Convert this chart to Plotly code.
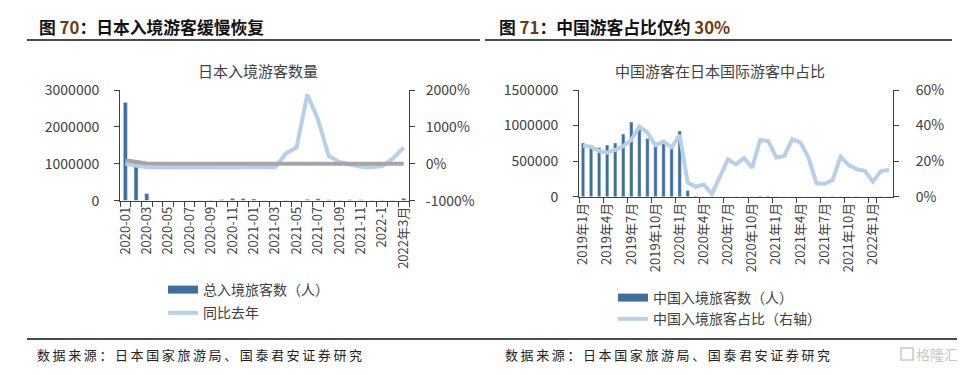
import plotly.graph_objects as go

OFF = 8                      # page body margin offset
W, H = 965 - OFF, 375 - OFF
def px(x): return (x - OFF) / W
def py(y): return 1 - (y - OFF) / H

# ---------------- data: left chart ----------------
left_months = ["2020-01", "2020-02", "2020-03", "2020-04", "2020-05", "2020-06", "2020-07",
               "2020-08", "2020-09", "2020-10", "2020-11", "2020-12", "2021-01", "2021-02",
               "2021-03", "2021-04", "2021-05", "2021-06", "2021-07", "2021-08", "2021-09",
               "2021-10", "2021-11", "2021-12", "2022-1", "2022-2", "2022年3月"]
left_ticktext = ["2020-01", "", "2020-03", "", "2020-05", "", "2020-07", "", "2020-09", "",
                 "2020-11", "", "2021-01", "", "2021-03", "", "2021-05", "", "2021-07", "",
                 "2021-09", "", "2021-11", "", "2022-1", "", "2022年3月"]
total_visitors = [2661000, 1085000, 193700, 2900, 1700, 2600, 3800, 8700, 13700, 27400,
                  56700, 58700, 46500, 7400, 12300, 10900, 10000, 35000, 51100, 25900,
                  17700, 22100, 21000, 12100, 17700, 16700, 66100]
yoy_pct = [-1.1, -58, -93, -99.9, -99.9, -99.9, -99.8, -99.7, -99.4, -98.9, -97.7, -97.3,
           -98.3, -99.3, -93.6, 280, 440, 1880, 1200, 210, 50, -20, -80, -95, -60, 140, 440]
gray_pct = [95, 40, 8, 0, 0, 0, 0, 0, 0, 0, 0, 0, 0, 0, 0, 0, 0, 0, 0, 0, 0, 0, 0, 0, 0, 0, 0]
left_y_ticks = [0, 1000000, 2000000, 3000000]
left_y2_ticks = [-1000, 0, 1000, 2000]
left_y2_text = ["-1000%", "0%", "1000%", "2000%"]

# ---------------- data: right chart ----------------
right_months = [f"{y}年{m}月" for y in (2019, 2020, 2021) for m in range(1, 13)] + \
               ["2022年1月", "2022年2月", "2022年3月"]
right_tickvals = right_months[::3]
china_visitors = [754400, 723800, 691300, 726100, 756400, 880800, 1050400, 1000600, 819100,
                  730600, 750900, 710300,
                  924800, 87200, 10400, 200, 100, 200, 200, 500, 1400, 3000, 10000, 9000,
                  2000, 500, 800, 800, 700, 1200, 3600, 1400, 1500, 1100, 1400, 900,
                  1900, 1800, 1600]
china_share = [28.5, 28.1, 25.7, 24.8, 26.3, 28.5, 31.9, 39.5, 36.0, 29.0, 31.0, 27.8,
               34.7, 7.9, 5.6, 6.9, 1.5, 10.9, 21.0, 18.2, 21.8, 16.3, 31.9, 31.3,
               22.0, 22.9, 32.4, 30.4, 22.0, 7.5, 7.3, 9.4, 22.5, 17.8, 15.4, 14.6,
               8.4, 14.4, 15.0]
right_y_ticks = [0, 500000, 1000000, 1500000]
right_y2_ticks = [0, 20, 40, 60]
right_y2_text = ["0%", "20%", "40%", "60%"]

BAR = "#3f6f9c"
LIGHT = "#b7cfea"
GRAY = "#a5a5a5"
TXT = "#404040"
AX = "#404040"
FONT = "Noto Sans CJK SC"
NUMC = "#6e3a10"

fig = go.Figure()

# left chart traces
fig.add_trace(go.Bar(x=left_months, y=total_visitors, marker_color=BAR, width=0.38,
                     xaxis="x", yaxis="y", showlegend=False, legendgroup="a"))
fig.add_trace(go.Scatter(x=[None], y=[None], mode="lines", line=dict(color=BAR, width=8),
                         name="总入境旅客数（人）", xaxis="x", yaxis="y", legend="legend",
                         legendgroup="a"))
fig.add_trace(go.Scatter(x=left_months, y=yoy_pct, mode="lines", line=dict(color=LIGHT, width=4),
                         name="同比去年", xaxis="x", yaxis="y2", legend="legend", legendgroup="b"))
fig.add_trace(go.Scatter(x=left_months, y=gray_pct, mode="lines", line=dict(color=GRAY, width=4),
                         xaxis="x", yaxis="y2", showlegend=False))

# right chart traces
fig.add_trace(go.Bar(x=right_months, y=china_visitors, marker_color=BAR, width=0.42,
                     xaxis="x2", yaxis="y3", showlegend=False, legendgroup="c"))
fig.add_trace(go.Scatter(x=[None], y=[None], mode="lines", line=dict(color=BAR, width=8),
                         name="中国入境旅客数（人）", xaxis="x2", yaxis="y3", legend="legend2",
                         legendgroup="c"))
fig.add_trace(go.Scatter(x=right_months, y=china_share, mode="lines", line=dict(color=LIGHT, width=4),
                         name="中国入境旅客占比（右轴）", xaxis="x2", yaxis="y4", legend="legend2",
                         legendgroup="d"))

axis_common = dict(showgrid=False, zeroline=False, showline=True, linecolor=AX, linewidth=1,
                   ticks="outside", ticklen=5, tickcolor=AX, automargin=False,
                   tickfont=dict(family=FONT, size=14, color=TXT))

fig.update_layout(
    width=W, height=H, margin=dict(l=0, r=0, t=0, b=0, autoexpand=False),
    paper_bgcolor="white", plot_bgcolor="white",
    font=dict(family=FONT, color=TXT),
    xaxis=dict(axis_common, domain=[px(120), px(409)], anchor="y", type="category",
               tickvals=left_months, ticktext=left_ticktext, tickson="boundaries",
               tickangle=-90, tickfont=dict(family=FONT, size=13, color=TXT)),
    yaxis=dict(axis_common, domain=[py(200.6), py(90)], anchor="x", range=[0, 3000000],
               tickvals=left_y_ticks, tickformat="d", ticklabelstandoff=12),
    yaxis2=dict(axis_common, overlaying="y", side="right", anchor="x", range=[-1000, 2000],
                tickvals=left_y2_ticks, ticktext=left_y2_text, ticklabelstandoff=8),
    xaxis2=dict(axis_common, domain=[px(579), px(893)], anchor="y3", type="category",
                tickvals=right_tickvals, ticktext=right_tickvals, tickson="boundaries",
                tickangle=-90, tickfont=dict(family=FONT, size=13, color=TXT)),
    yaxis3=dict(axis_common, domain=[py(196.7), py(90)], anchor="x2", range=[0, 1500000],
                tickvals=right_y_ticks, tickformat="d", ticklabelstandoff=12),
    yaxis4=dict(axis_common, overlaying="y3", side="right", anchor="x2", range=[0, 60],
                tickvals=right_y2_ticks, ticktext=right_y2_text, ticklabelstandoff=14),
    legend=dict(x=px(163), y=py(274), xanchor="left", yanchor="top", traceorder="grouped",
                tracegroupgap=2, font=dict(family=FONT, size=14, color=TXT),
                bgcolor="rgba(0,0,0,0)", itemwidth=30),
    legend2=dict(x=px(613), y=py(282), xanchor="left", yanchor="top", traceorder="grouped",
                 tracegroupgap=0, font=dict(family=FONT, size=14, color=TXT),
                 bgcolor="rgba(0,0,0,0)", itemwidth=30),
)

TS = "\u2009"
source = TS.join("数据来源：日本国家旅游局、国泰君安证券研究")

# titles & texts
anns = [
    dict(x=px(37), y=py(27), xanchor="left", yanchor="middle",
         text=f"<b>图 <span style='color:{NUMC}'>70</span>：日本入境游客缓慢恢复</b>",
         font=dict(family=FONT, size=16.8, color="#111111")),
    dict(x=px(497), y=py(27), xanchor="left", yanchor="middle",
         text=f"<b>图 <span style='color:{NUMC}'>71</span>：中国游客占比仅约 <span style='color:{NUMC}'>30%</span></b>",
         font=dict(family=FONT, size=16.8, color="#111111")),
    dict(x=px(258), y=py(70), xanchor="center", yanchor="middle", text="日本入境游客数量",
         font=dict(family=FONT, size=15, color=TXT)),
    dict(x=px(720), y=py(70), xanchor="center", yanchor="middle", text="中国游客在日本国际游客中占比",
         font=dict(family=FONT, size=15, color=TXT)),
    dict(x=px(35), y=py(354), xanchor="left", yanchor="middle", text=source,
         font=dict(family=FONT, size=13, color="#222222")),
    dict(x=px(503), y=py(354), xanchor="left", yanchor="middle", text=source,
         font=dict(family=FONT, size=13, color="#222222")),
    dict(x=px(960), y=py(354), xanchor="right", yanchor="middle", text="格隆汇",
         font=dict(family=FONT, size=14, color="#c8c8c8")),
]
for a in anns:
    a.update(xref="paper", yref="paper", showarrow=False)
fig.update_layout(annotations=anns)

shapes = [
    dict(type="line", x0=px(27), x1=px(480), y0=py(40), y1=py(40), line=dict(color="#111111", width=1.5)),
    dict(type="line", x0=px(485), x1=px(952), y0=py(40), y1=py(40), line=dict(color="#111111", width=1.5)),
    dict(type="line", x0=px(27), x1=px(957), y0=py(339), y1=py(339), line=dict(color="#111111", width=1.5)),
    dict(type="rect", x0=px(901), x1=px(913), y0=py(348), y1=py(360), line=dict(color="#c8c8c8", width=1.5)),
]
for s in shapes:
    s.update(xref="paper", yref="paper")
fig.update_layout(shapes=shapes)

fig.write_html("out.html")
